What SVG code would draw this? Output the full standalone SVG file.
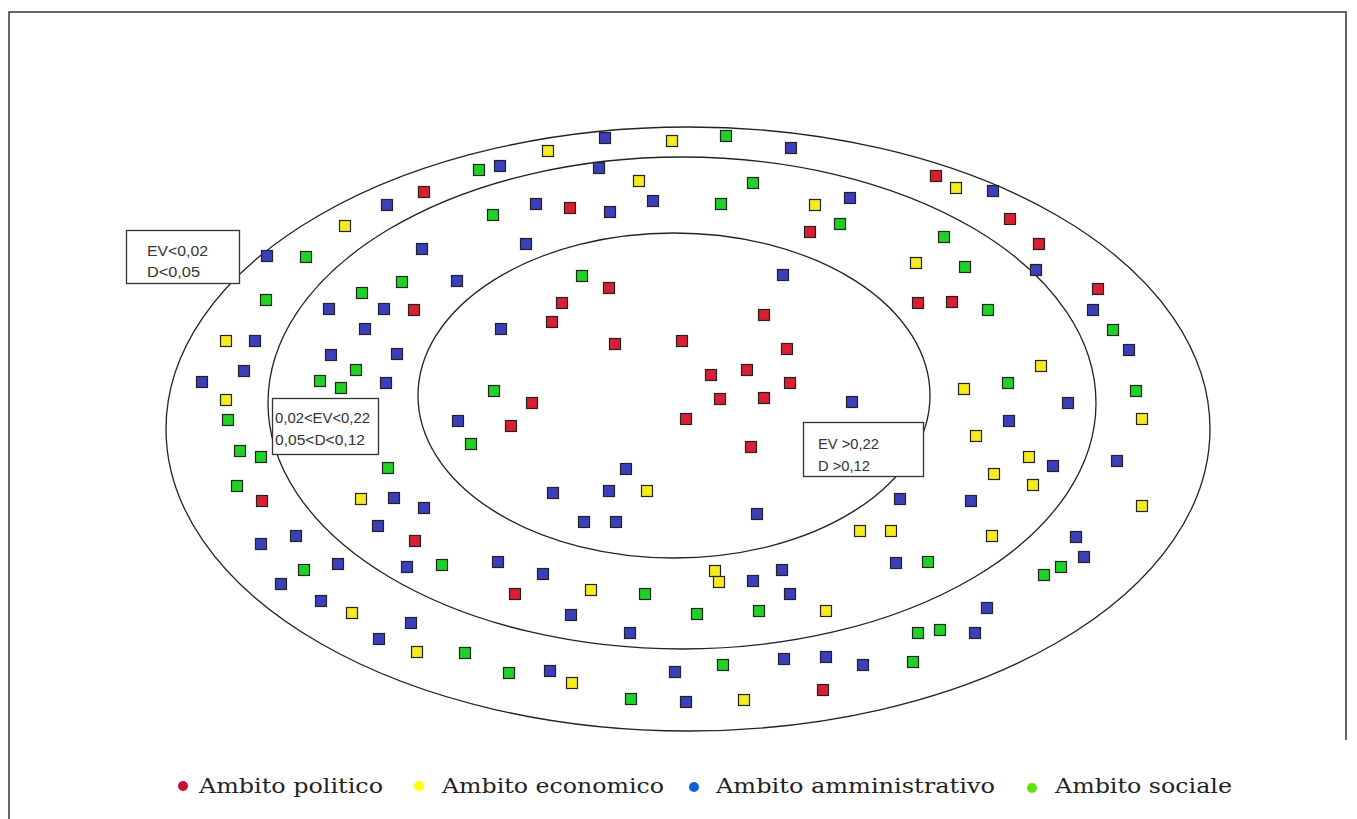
<svg xmlns="http://www.w3.org/2000/svg" xmlns:xlink="http://www.w3.org/1999/xlink" width="1357" height="819" viewBox="0 0 1357 819">
<style>
.frame{stroke:#333;stroke-width:1.5;fill:none}
.ring{fill:none;stroke:#222;stroke-width:1.3}
.r{fill:#d81f33}
.y{fill:#f7ea1f}
.b{fill:#3b3fbb}
.g{fill:#1fd325}
.lbl{fill:#fff;stroke:#333;stroke-width:1.3}
.lt{font-family:"Liberation Sans",Arial,sans-serif;font-size:14px;fill:#333}
.leg{font-family:"DejaVu Serif","Liberation Serif",serif;font-size:20px;fill:#222}
</style>
<defs>
<rect id="q" x="-5.5" y="-5.5" width="11" height="11" stroke="#222" stroke-width="1.2"/>
</defs>
<rect width="1357" height="819" fill="#fff"/>
<g id="frame">
<path class="frame" d="M9,819 V12 H1346 V740"/>
</g>
<g id="rings">
<ellipse class="ring" cx="688" cy="429" rx="522" ry="302"/>
<ellipse class="ring" cx="682" cy="403" rx="414" ry="246"/>
<ellipse class="ring" cx="674" cy="395.5" rx="256" ry="162.5"/>
</g>
<g id="politico" class="r">
<use href="#q" x="424" y="192"/><use href="#q" x="570" y="208"/><use href="#q" x="609" y="288"/><use href="#q" x="562" y="303"/><use href="#q" x="552" y="322"/><use href="#q" x="414" y="310"/><use href="#q" x="615" y="344"/><use href="#q" x="532" y="403"/><use href="#q" x="511" y="426"/><use href="#q" x="262" y="501"/><use href="#q" x="415" y="541"/><use href="#q" x="515" y="594"/><use href="#q" x="823" y="690"/><use href="#q" x="936" y="176"/><use href="#q" x="1010" y="219"/><use href="#q" x="1039" y="244"/><use href="#q" x="810" y="232"/><use href="#q" x="918" y="303"/><use href="#q" x="952" y="302"/><use href="#q" x="1098" y="289"/><use href="#q" x="764" y="315"/><use href="#q" x="682" y="341"/><use href="#q" x="787" y="349"/><use href="#q" x="711" y="375"/><use href="#q" x="747" y="370"/><use href="#q" x="790" y="383"/><use href="#q" x="720" y="399"/><use href="#q" x="764" y="398"/><use href="#q" x="686" y="419"/><use href="#q" x="751" y="447"/>
</g>
<g id="economico" class="y">
<use href="#q" x="548" y="151"/><use href="#q" x="345" y="226"/><use href="#q" x="226" y="341"/><use href="#q" x="226" y="400"/><use href="#q" x="672" y="141"/><use href="#q" x="639" y="181"/><use href="#q" x="815" y="205"/><use href="#q" x="956" y="188"/><use href="#q" x="916" y="263"/><use href="#q" x="1041" y="366"/><use href="#q" x="964" y="389"/><use href="#q" x="1142" y="419"/><use href="#q" x="976" y="436"/><use href="#q" x="361" y="499"/><use href="#q" x="647" y="491"/><use href="#q" x="591" y="590"/><use href="#q" x="352" y="613"/><use href="#q" x="417" y="652"/><use href="#q" x="572" y="683"/><use href="#q" x="1029" y="457"/><use href="#q" x="994" y="474"/><use href="#q" x="1033" y="485"/><use href="#q" x="1142" y="506"/><use href="#q" x="860" y="531"/><use href="#q" x="891" y="531"/><use href="#q" x="992" y="536"/><use href="#q" x="715" y="571"/><use href="#q" x="719" y="582"/><use href="#q" x="826" y="611"/><use href="#q" x="744" y="700"/>
</g>
<g id="amministrativo" class="b">
<use href="#q" x="605" y="138"/><use href="#q" x="500" y="166"/><use href="#q" x="599" y="168"/><use href="#q" x="387" y="205"/><use href="#q" x="536" y="204"/><use href="#q" x="610" y="212"/><use href="#q" x="422" y="249"/><use href="#q" x="526" y="244"/><use href="#q" x="267" y="256"/><use href="#q" x="457" y="281"/><use href="#q" x="329" y="309"/><use href="#q" x="384" y="309"/><use href="#q" x="365" y="329"/><use href="#q" x="501" y="329"/><use href="#q" x="255" y="341"/><use href="#q" x="331" y="355"/><use href="#q" x="397" y="354"/><use href="#q" x="244" y="371"/><use href="#q" x="202" y="382"/><use href="#q" x="386" y="383"/><use href="#q" x="458" y="421"/><use href="#q" x="791" y="148"/><use href="#q" x="653" y="201"/><use href="#q" x="850" y="198"/><use href="#q" x="993" y="191"/><use href="#q" x="1036" y="270"/><use href="#q" x="783" y="275"/><use href="#q" x="1093" y="310"/><use href="#q" x="1129" y="350"/><use href="#q" x="852" y="402"/><use href="#q" x="1068" y="403"/><use href="#q" x="1009" y="421"/><use href="#q" x="626" y="469"/><use href="#q" x="553" y="493"/><use href="#q" x="609" y="491"/><use href="#q" x="584" y="522"/><use href="#q" x="616" y="522"/><use href="#q" x="394" y="498"/><use href="#q" x="424" y="508"/><use href="#q" x="378" y="526"/><use href="#q" x="261" y="544"/><use href="#q" x="296" y="536"/><use href="#q" x="338" y="564"/><use href="#q" x="407" y="567"/><use href="#q" x="281" y="584"/><use href="#q" x="498" y="562"/><use href="#q" x="543" y="574"/><use href="#q" x="321" y="601"/><use href="#q" x="571" y="615"/><use href="#q" x="630" y="633"/><use href="#q" x="411" y="623"/><use href="#q" x="379" y="639"/><use href="#q" x="550" y="671"/><use href="#q" x="757" y="514"/><use href="#q" x="1053" y="466"/><use href="#q" x="1117" y="461"/><use href="#q" x="900" y="499"/><use href="#q" x="971" y="501"/><use href="#q" x="1076" y="537"/><use href="#q" x="1084" y="557"/><use href="#q" x="896" y="563"/><use href="#q" x="753" y="581"/><use href="#q" x="782" y="570"/><use href="#q" x="790" y="594"/><use href="#q" x="987" y="608"/><use href="#q" x="975" y="633"/><use href="#q" x="675" y="672"/><use href="#q" x="784" y="659"/><use href="#q" x="826" y="657"/><use href="#q" x="863" y="665"/><use href="#q" x="686" y="702"/>
</g>
<g id="sociale" class="g">
<use href="#q" x="479" y="170"/><use href="#q" x="493" y="215"/><use href="#q" x="306" y="257"/><use href="#q" x="582" y="276"/><use href="#q" x="402" y="282"/><use href="#q" x="266" y="300"/><use href="#q" x="362" y="293"/><use href="#q" x="356" y="370"/><use href="#q" x="320" y="381"/><use href="#q" x="341" y="388"/><use href="#q" x="494" y="391"/><use href="#q" x="228" y="420"/><use href="#q" x="471" y="444"/><use href="#q" x="240" y="451"/><use href="#q" x="261" y="457"/><use href="#q" x="726" y="136"/><use href="#q" x="753" y="183"/><use href="#q" x="721" y="204"/><use href="#q" x="840" y="224"/><use href="#q" x="944" y="237"/><use href="#q" x="965" y="267"/><use href="#q" x="988" y="310"/><use href="#q" x="1113" y="330"/><use href="#q" x="1008" y="383"/><use href="#q" x="1136" y="391"/><use href="#q" x="388" y="468"/><use href="#q" x="237" y="486"/><use href="#q" x="442" y="565"/><use href="#q" x="304" y="570"/><use href="#q" x="645" y="594"/><use href="#q" x="465" y="653"/><use href="#q" x="509" y="673"/><use href="#q" x="631" y="699"/><use href="#q" x="928" y="562"/><use href="#q" x="1061" y="567"/><use href="#q" x="1044" y="575"/><use href="#q" x="697" y="614"/><use href="#q" x="759" y="611"/><use href="#q" x="918" y="633"/><use href="#q" x="940" y="630"/><use href="#q" x="723" y="665"/><use href="#q" x="913" y="662"/>
</g>
<g id="label-outer">
<rect class="lbl" x="126.5" y="230.5" width="113" height="53"/>
<text class="lt" x="147" y="256" textLength="61" lengthAdjust="spacingAndGlyphs">EV&lt;0,02</text>
<text class="lt" x="147" y="277" textLength="53" lengthAdjust="spacingAndGlyphs">D&lt;0,05</text>
</g>
<g id="label-middle">
<rect class="lbl" x="272.5" y="398.5" width="106" height="56"/>
<text class="lt" x="275" y="423" textLength="95" lengthAdjust="spacingAndGlyphs">0,02&lt;EV&lt;0,22</text>
<text class="lt" x="275" y="445" textLength="90" lengthAdjust="spacingAndGlyphs">0,05&lt;D&lt;0,12</text>
</g>
<g id="label-inner">
<rect class="lbl" x="803.5" y="422.5" width="120" height="54"/>
<text class="lt" x="818" y="449" textLength="61" lengthAdjust="spacingAndGlyphs">EV &gt;0,22</text>
<text class="lt" x="818" y="471" textLength="52" lengthAdjust="spacingAndGlyphs">D &gt;0,12</text>
</g>
<g id="legend">
<circle cx="183" cy="786" r="5" fill="#c8102e"/>
<text class="leg" x="199" y="793" textLength="184" lengthAdjust="spacingAndGlyphs">Ambito politico</text>
<circle cx="419" cy="786" r="5" fill="#ffff00"/>
<text class="leg" x="442" y="793" textLength="222" lengthAdjust="spacingAndGlyphs">Ambito economico</text>
<circle cx="694" cy="787" r="5" fill="#0a64d2"/>
<text class="leg" x="716" y="793" textLength="279" lengthAdjust="spacingAndGlyphs">Ambito amministrativo</text>
<circle cx="1032" cy="788" r="5" fill="#5ee60a"/>
<text class="leg" x="1055" y="793" textLength="177" lengthAdjust="spacingAndGlyphs">Ambito sociale</text>
</g>
</svg>
